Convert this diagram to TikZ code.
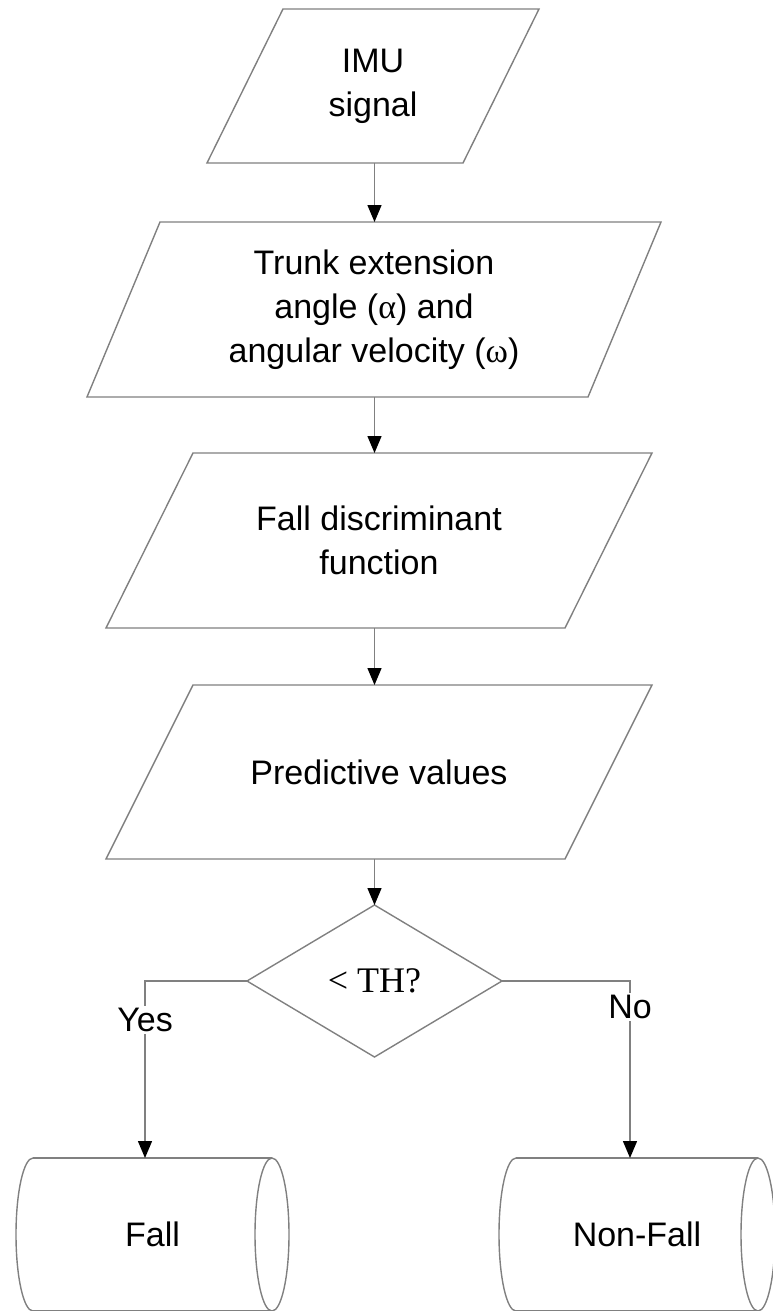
\documentclass[tikz,border=0pt]{standalone}
\usepackage{fontspec}
\setmainfont{Liberation Sans}
\newfontfamily\symfont{Liberation Serif}
\usetikzlibrary{shapes.geometric,arrows.meta}

\tikzset{
  line/.style={draw=black!50, line width=0.7pt},
  iobox/.style={rectangle, align=center, inner sep=0pt, outer sep=0pt},
  decide/.style={diamond, line, inner sep=0pt, outer sep=0pt,
    minimum width=127.5pt, minimum height=76pt, font=\symfont\fontsize{18}{20}\selectfont},
  store/.style={rectangle, inner sep=0pt, outer sep=0pt, minimum height=76.5pt},
  flow/.style={line, -{Triangle[length=8.5pt,width=7pt,color=black]}},
  tag/.style={fill=white, inner sep=1pt},
}

\begin{document}
\begin{tikzpicture}[x=0.5pt, y=-0.5pt, font=\fontsize{17}{22}\selectfont]
  \useasboundingbox (0,0) rectangle (772,1311);
  % input and processing steps
  \node[iobox, minimum width=128pt, minimum height=77pt] (imu) at (373,86) {IMU\\signal};
  \node[iobox, minimum width=250.5pt, minimum height=87.5pt] (trunk) at (374,309.5)
    {Trunk extension\\angle ({\symfont α}) and\\angular velocity ({\symfont ω})};
  \node[iobox, minimum width=229.5pt, minimum height=87.5pt] (disc) at (379,540.5)
    {Fall discriminant\\function};
  \node[iobox, minimum width=229.5pt, minimum height=87pt] (pred) at (379,772)
    {Predictive values};
  % decision
  \node[decide] (th) at (374.5,981) {< TH?};
  % outcomes
  \node[store, minimum width=119.5pt] (fall) at (152.5,1234.5) {Fall};
  \node[store, minimum width=121pt] (nonfall) at (637,1234.5) {Non-Fall};
  \coordinate (yesturn) at (145,981);
  \coordinate (noturn) at (630,981);

  % slanted outlines of the data boxes
  \foreach \n/\s in {imu/19pt, trunk/18.25pt, disc/21.75pt, pred/21.75pt}
    \draw[line] ([xshift=\s]\n.north west) -- ([xshift=\s]\n.north east)
      -- ([xshift=-\s]\n.south east) -- ([xshift=-\s]\n.south west) -- cycle;
  % drum outlines of the outcomes
  \foreach \n in {fall, nonfall} {
    \draw[line] (\n.north west) -- (\n.north east) (\n.south west) -- (\n.south east);
    \draw[line] (\n.north west) arc[start angle=90, end angle=270, x radius=8.5pt, y radius=38.25pt];
    \draw[line] (\n.east) ellipse [x radius=8.5pt, y radius=38.25pt];
  }

  \foreach \a/\b in {imu/trunk, trunk/disc, disc/pred, pred/th}
    \draw[flow] (\a.south -| th.north) -- (\b.north -| th.north);
  \draw[flow] (th.west) -- (yesturn) -- (yesturn |- fall.north);
  \draw[flow] (th.east) -- (noturn) -- (noturn |- nonfall.north);
  \node[tag] (yes) at (145,1020) {Yes};
  \node[tag] (no) at (630,1007) {No};
\end{tikzpicture}
\end{document}
